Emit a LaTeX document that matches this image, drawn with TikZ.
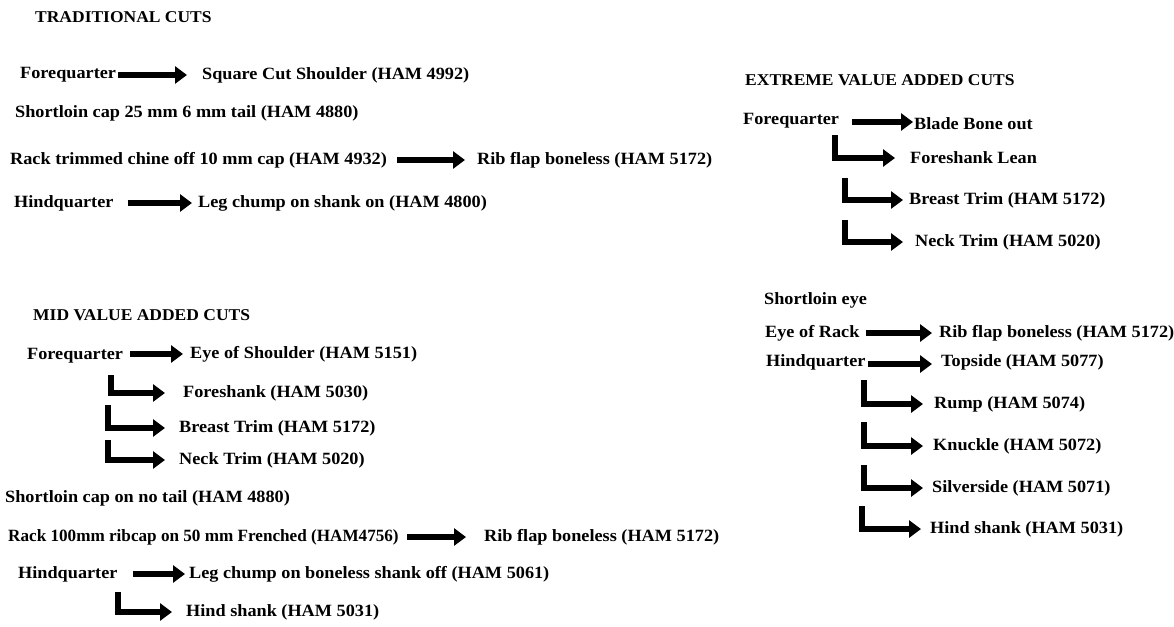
\documentclass[tikz,border=0pt]{standalone}
\usepackage{fontspec}
\setmainfont{Liberation Serif}[FakeStretch=1.06]
\usetikzlibrary{arrows.meta}
\tikzset{
  lbl/.style={anchor=west, inner sep=0pt, font=\fontsize{17.2pt}{20pt}\selectfont\bfseries},
  ttl/.style={anchor=west, inner sep=0pt, font=\fontsize{16.5pt}{19pt}\selectfont\bfseries},
  arr/.style={line width=6.5pt, line join=miter, -{Triangle[length=12pt,width=17pt]}},
}
\begin{document}
\begin{tikzpicture}[x=1pt,y=1pt]
\useasboundingbox[fill=white] (0,0) rectangle (1174,-626);
% ---------------- TRADITIONAL CUTS
\node[ttl] (tt) at (35,-17) {TRADITIONAL CUTS};
\node[lbl] (tfq) at (20,-75) {Forequarter};
\node[lbl] (tsq) at (202,-75) {Square Cut Shoulder (HAM 4992)};
\draw[arr] ([xshift=2pt]tfq.east) -- ([xshift=-15pt]tfq.east -| tsq.west);
\node[lbl] (tsl) at (15,-113) {Shortloin cap 25 mm 6 mm tail (HAM 4880)};
\node[lbl] (track) at (10,-160) {Rack trimmed chine off 10 mm cap (HAM 4932)};
\node[lbl] (trib) at (477,-160) {Rib flap boneless (HAM 5172)};
\draw[arr] ([xshift=10pt]track.east) -- ([xshift=-12pt]track.east -| trib.west);
\node[lbl] (thq) at (14,-203) {Hindquarter};
\node[lbl] (tleg) at (198,-203) {Leg chump on shank on (HAM 4800)};
\draw[arr] ([xshift=14pt]thq.east) -- ([xshift=-6pt]thq.east -| tleg.west);
% ---------------- MID VALUE ADDED CUTS
\node[ttl] (mt) at (33,-315) {MID VALUE ADDED CUTS};
\node[lbl] (mfq) at (27,-356) {Forequarter};
\node[lbl] (meye) at (190,-354) {Eye of Shoulder (HAM 5151)};
\draw[arr] ([xshift=7pt]meye.west -| mfq.east) -- ([xshift=-7pt]meye.west);
\node[lbl] (mfs) at (183,-393) {Foreshank (HAM 5030)};
\node[lbl] (mbt) at (179,-428) {Breast Trim (HAM 5172)};
\node[lbl] (mnt) at (179,-460) {Neck Trim (HAM 5020)};
\coordinate (m1) at (111,-375);
\coordinate (m2) at (108,-405);
\coordinate (m3) at (108,-440);
\draw[arr] (m1) |- ([xshift=-18pt]mfs.west);
\draw[arr] (m2) |- ([xshift=-14pt]mbt.west);
\draw[arr] (m3) |- ([xshift=-14pt]mnt.west);
\node[lbl] (msl) at (5,-498) {Shortloin cap on no tail (HAM 4880)};
\node[lbl] (mrack) at (8,-537) {\scalebox{0.94}[1]{Rack 100mm ribcap on 50 mm Frenched (HAM4756)}};
\node[lbl] (mrib) at (484,-537) {Rib flap boneless (HAM 5172)};
\draw[arr] ([xshift=8pt]mrack.east) -- ([xshift=-18pt]mrib.west);
\node[lbl] (mhq) at (18,-574) {Hindquarter};
\node[lbl] (mleg) at (189,-574) {Leg chump on boneless shank off (HAM 5061)};
\draw[arr] ([xshift=15pt]mhq.east) -- ([xshift=-4pt]mhq.east -| mleg.west);
\node[lbl] (mhs) at (186,-612) {Hind shank (HAM 5031)};
\coordinate (m4) at (118,-592);
\draw[arr] (m4) |- ([xshift=-14pt]mhs.west);
% ---------------- EXTREME VALUE ADDED CUTS
\node[ttl] (et) at (745,-80) {EXTREME VALUE ADDED CUTS};
\node[lbl] (efq) at (743,-121) {Forequarter};
\node[lbl] (ebb) at (914,-124) {Blade Bone out};
\draw[arr] ([xshift=13pt,yshift=-1pt]efq.east) -- ([xshift=-1pt,yshift=-1pt]efq.east -| ebb.west);
\node[lbl] (efl) at (910,-158) {Foreshank Lean};
\node[lbl] (ebt) at (909,-200) {Breast Trim (HAM 5172)};
\node[lbl] (ent) at (915,-242) {Neck Trim (HAM 5020)};
\coordinate (e1) at (835,-135);
\coordinate (e2) at (845,-178);
\coordinate (e3) at (845,-220);
\draw[arr] (e1) |- ([xshift=-15pt]efl.west);
\draw[arr] (e2) |- ([xshift=-6pt]ebt.west);
\draw[arr] (e3) |- ([xshift=-12pt]ent.west);
\node[lbl] (ese) at (764,-300) {Shortloin eye};
\node[lbl] (eer) at (765,-333) {Eye of Rack};
\node[lbl] (erib) at (939,-333) {Rib flap boneless (HAM 5172)};
\draw[arr] ([xshift=6pt]eer.east) -- ([xshift=-7pt]eer.east -| erib.west);
\node[lbl] (ehq) at (766,-362) {Hindquarter};
\node[lbl] (etop) at (941,-362) {Topside (HAM 5077)};
\draw[arr] ([xshift=2pt,yshift=-2pt]ehq.east) -- ([xshift=-9pt,yshift=-2pt]ehq.east -| etop.west);
\node[lbl] (erump) at (934,-404) {Rump (HAM 5074)};
\node[lbl] (ekn) at (933,-446) {Knuckle (HAM 5072)};
\node[lbl] (esil) at (932,-488) {Silverside (HAM 5071)};
\node[lbl] (ehs) at (930,-529) {Hind shank (HAM 5031)};
\coordinate (e4) at (864,-380);
\coordinate (e5) at (864,-422);
\coordinate (e6) at (864,-465);
\coordinate (e7) at (862,-506);
\draw[arr] (e4) |- ([xshift=-11pt]erump.west);
\draw[arr] (e5) |- ([xshift=-10pt]ekn.west);
\draw[arr] (e6) |- ([xshift=-9pt]esil.west);
\draw[arr] (e7) |- ([xshift=-9pt]ehs.west);
\end{tikzpicture}
\end{document}
